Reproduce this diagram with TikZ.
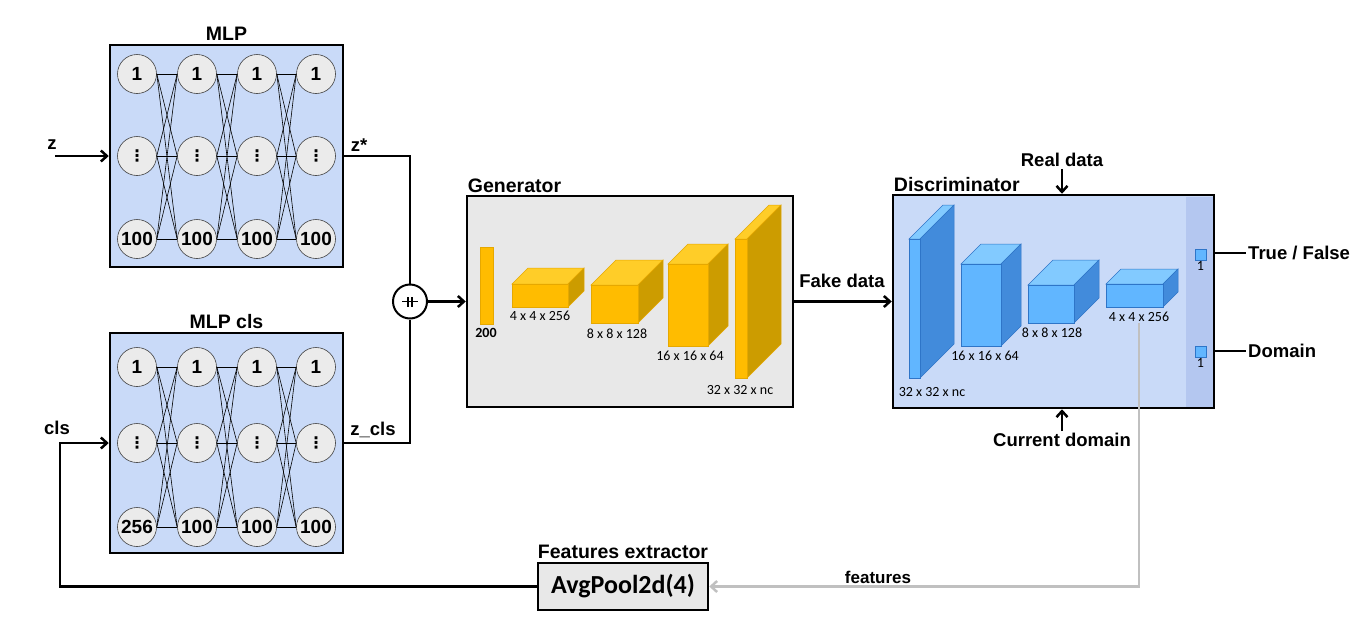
\documentclass[tikz,border=0pt]{standalone}
\usepackage{fontspec}
\setmainfont{Liberation Sans}
\newfontfamily\calibri{Carlito}
\newfontfamily\dejavu{DejaVu Sans}
\usepackage{xcolor}
\usepackage{tikz}
\usetikzlibrary{arrows.meta}
\usetikzlibrary{positioning, calc}

\definecolor{boxblue}{RGB}{201,218,248}
\definecolor{stripblue}{RGB}{180,199,240}
\definecolor{gengray}{RGB}{232,232,232}
\definecolor{neurongray}{RGB}{235,235,235}
\definecolor{featgray}{RGB}{192,192,192}
\definecolor{gfront}{RGB}{255,188,0}
\definecolor{gtop}{RGB}{255,205,40}
\definecolor{gside}{RGB}{204,156,0}
\definecolor{gedge}{RGB}{230,168,0}
\definecolor{bfront}{RGB}{97,182,255}
\definecolor{btop}{RGB}{130,202,255}
\definecolor{bside}{RGB}{66,139,219}
\definecolor{bedge}{RGB}{46,117,200}

\begin{document}
\begin{tikzpicture}[x=1pt,y=-1pt,
    box/.style={draw, line width=2.5pt, inner sep=0pt},
    neuron/.style={circle, draw=black!75, line width=0.6pt, fill=neurongray, minimum size=39pt, inner sep=0pt, font=\fontsize{19}{21}\selectfont\bfseries},
    title/.style={font=\fontsize{19.5}{22}\selectfont\bfseries, inner sep=2pt},
    lab/.style={font=\fontsize{18.5}{21}\selectfont\bfseries, inner sep=2pt},
    dim/.style={font=\calibri\fontsize{14}{16}\selectfont, inner sep=1pt},
    outsq/.style={draw=bedge, fill=bfront, line width=0.5pt, minimum size=11pt, inner sep=0pt},
    wire/.style={line width=2.5pt},
    arr/.style={wire, -{Straight Barb[length=6pt,width=11pt]}}
  ]
  \useasboundingbox (0,0) rectangle (1368,632);

  % the two MLPs
  \node[box, fill=boxblue, minimum width=233pt, minimum height=222pt] (mlp) at (226.5,156) {};
  \node[title, above=1pt of mlp] (mlp-title) {MLP};
  \node[box, fill=boxblue, minimum width=233pt, minimum height=220pt] (cls) at (226.5,443) {};
  \node[title, above=1pt of cls] (cls-title) {MLP cls};
  \foreach \m/\ya/\yb/\yc/\lastlab in {mlp/74/156/239/100, cls/367/443/527/256} {
    \foreach \c/\x/\t in {1/137/\lastlab, 2/197/100, 3/257/100, 4/316/100} {
      \node[neuron] (\m-\c-1) at (\x,\ya) {1};
      \node[neuron, font=\dejavu\bfseries\fontsize{16}{18}\selectfont] (\m-\c-2) at (\x,\yb) {⋮};
      \node[neuron] (\m-\c-3) at (\x,\yc) {\t};
    }
    \foreach \c [evaluate=\c as \n using int(\c+1)] in {1,2,3}
      \foreach \r in {1,2,3}
        \foreach \s in {1,2,3}
          \draw[line width=0.6pt] (\m-\c-\r.east) -- (\m-\n-\s.west);
  }

  % inputs of the MLPs
  \node[lab] (z-lab) at (52,145) {z};
  \coordinate (z-in) at (55,156);
  \draw[arr] (z-in) -- (mlp.west);
  \node[lab] (cls-lab) at (57,428) {cls};

  % concatenation
  \node[circle, draw, line width=2pt, fill=white, minimum size=34pt] (plus) at (410,301.5) {};
  \draw[line width=1.6pt] ([xshift=-8pt]plus.center) -- ([xshift=8pt]plus.center);
  \draw[line width=1.6pt] ([xshift=-2pt,yshift=-5pt]plus.center) -- ([xshift=-2pt,yshift=5pt]plus.center);
  \draw[line width=1.6pt] ([xshift=2pt,yshift=-5pt]plus.center) -- ([xshift=2pt,yshift=5pt]plus.center);
  \draw[wire] (mlp.east) -| (plus.north);
  \draw[wire] (cls.east) -| (plus.south);
  \node[lab] (zstar-lab) at (359,145) {z*};
  \node[lab] (zcls-lab) at (373,430) {z\_cls};

  % generator
  \node[box, fill=gengray, minimum width=326pt, minimum height=211pt] (gen) at (630,301.5) {};
  \node[title, anchor=south west] (gen-title) at (gen.north west) {Generator};
  \foreach \i/\x/\y/\w/\h/\d/\lx/\ly/\t in {1/480/247/13/77/0/486/333/{\bfseries 200},
      2/512/284/56/23/16/540/316/4 x 4 x 256, 3/591/285/47/38/25/617/334/8 x 8 x 128,
      4/668/264/40/82/20/690/356/16 x 16 x 64, 5/735/239/12/139/34/740/390/32 x 32 x nc} {
    \filldraw[fill=gtop, draw=gedge, line width=0.5pt] (\x,\y) -- ++(\d,-\d) -- ++(\w,0) -- ++(-\d,\d) -- cycle;
    \filldraw[fill=gside, draw=gedge, line width=0.5pt] ({\x+\w},\y) -- ++(\d,-\d) -- ++(0,\h) -- ++(-\d,\d) -- cycle;
    \filldraw[fill=gfront, draw=gedge, line width=0.5pt] (\x,\y) rectangle ++(\w,\h);
    \node[dim] (g-lab-\i) at (\lx,\ly) {\t};
  }
  \draw[arr] (plus.east) -- (gen.west);

  % discriminator
  \node[box, fill=boxblue, minimum width=321pt, minimum height=213pt] (disc) at (1053.5,301.5) {};
  \fill[stripblue] (1186,197) rectangle (1213,407);
  \node[title, anchor=south west] (disc-title) at (disc.north west) {Discriminator};
  \foreach \i/\x/\y/\w/\h/\d/\lx/\ly/\t in {1/909/239/11/139/34/932/392/32 x 32 x nc,
      2/961/264/40/82/20/985/356/16 x 16 x 64, 3/1028/285/46/38/25/1052/333/8 x 8 x 128,
      4/1106/284/57/23/15/1139/317/4 x 4 x 256} {
    \filldraw[fill=btop, draw=bedge, line width=0.5pt] (\x,\y) -- ++(\d,-\d) -- ++(\w,0) -- ++(-\d,\d) -- cycle;
    \filldraw[fill=bside, draw=bedge, line width=0.5pt] ({\x+\w},\y) -- ++(\d,-\d) -- ++(0,\h) -- ++(-\d,\d) -- cycle;
    \filldraw[fill=bfront, draw=bedge, line width=0.5pt] (\x,\y) rectangle ++(\w,\h);
    \node[dim] (d-lab-\i) at (\lx,\ly) {\t};
  }
  \node[outsq] (out-tf) at (1200.5,254.5) {};
  \node[dim, below=0pt of out-tf] (out-tf-lab) {1};
  \node[outsq] (out-dom) at (1200.5,352) {};
  \node[dim, below=0pt of out-dom] (out-dom-lab) {1};

  \draw[arr] (gen.east) -- (disc.west);
  \node[lab] (fake-lab) at (842,281) {Fake data};
  \node[lab] (real) at (1062,160) {Real data};
  \draw[arr] (real.south) -- (real.south |- disc.north);
  \node[lab] (cur) at (1062,440) {Current domain};
  \draw[arr] (cur.north) -- (cur.north |- disc.south);

  % outputs
  \node[lab, anchor=west] (tf) at (1246,253) {True / False};
  \draw[wire] (tf.west -| disc.east) -- (tf.west);
  \node[lab, anchor=west] (dom) at (1246,351) {Domain};
  \draw[wire] (dom.west -| disc.east) -- (dom.west);

  % features extractor
  \node[box, fill=gengray, minimum width=170pt, minimum height=47pt, font=\calibri\bfseries\fontsize{26}{28}\selectfont] (pool) at (623,586.5) {AvgPool2d(4)};
  \node[title, above=1pt of pool] (pool-title) {Features extractor};
  \draw[wire, featgray, -{Straight Barb[length=6pt,width=11pt]}] (d-lab-4.south) |- (pool.east);
  \node[font=\fontsize{17}{19}\selectfont\bfseries] (feat-lab) at (878,577) {features};
  \coordinate (cls-corner) at (60,443);
  \draw[arr] (pool.west) -| (cls-corner) -- (cls.west);
\end{tikzpicture}
\end{document}
